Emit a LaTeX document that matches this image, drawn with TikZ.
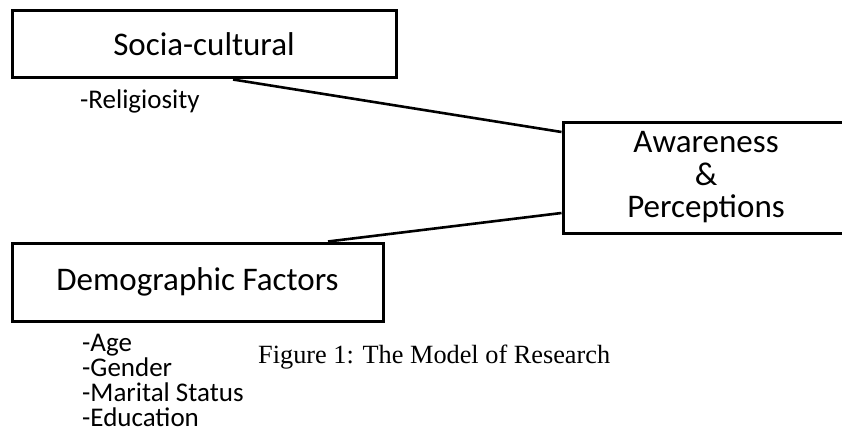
\documentclass[tikz,border=0pt]{standalone}
\usepackage{fontspec}
\setmainfont{Liberation Serif}
\newfontfamily\calibri{Carlito}

\begin{document}
\begin{tikzpicture}[x=1pt,y=-1pt,
  box/.style={draw,line width=3pt,rectangle,inner sep=0pt,align=center,
              font=\calibri\fontsize{33}{32.5}\selectfont},
  item/.style={inner sep=0pt,anchor=base west,align=left,
               font=\calibri\fontsize{27}{25}\selectfont}]
\clip (0,0) rectangle (842,433);
\node[box,minimum width=384pt,minimum height=67pt] (socia) at (204,44.5)  {Socia-cultural};
\node[box,minimum width=286pt,minimum height=111pt] (aware) at (706,177.5) {Awareness\\\&\\Perceptions};
\node[box,minimum width=371pt,minimum height=78pt] (demo)  at (197.5,282) {Demographic Factors};
\node[item] (relig) at (80,108) {-Religiosity};
\node[item] (dlist) at (82,426) {-Age\\-Gender\\-Marital Status\\-Education};
\node[inner sep=0pt,anchor=base west,font=\fontsize{26.3}{30}\selectfont] (caption) at (258,363)
  {Figure 1: The Model of Research};
\path[line width=2.6pt] ([xshift=29pt]socia.south)   edge ([yshift=45.5pt]aware.west)
                        ([xshift=130.5pt]demo.north) edge ([yshift=-35.5pt]aware.west);
\end{tikzpicture}
\end{document}
